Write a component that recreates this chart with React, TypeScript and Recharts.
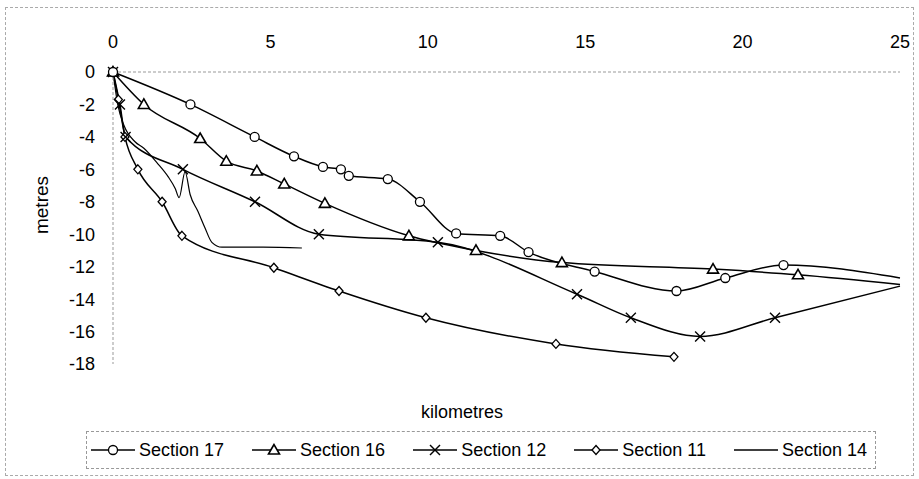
import React from "react";
import { LineChart, Line, XAxis, YAxis } from "recharts";

// Section 17 (circles)
const km17 = [0, 2.46, 4.5, 5.75, 6.67, 7.24, 7.49, 8.73, 9.75, 10.9, 12.3, 13.2, 15.3, 17.9, 19.45, 21.3, 25];
const m17 = [0, -2, -4, -5.2, -5.85, -6.0, -6.4, -6.6, -8.0, -9.95, -10.1, -11.1, -12.3, -13.5, -12.7, -11.9, -12.7];

// Section 16 (triangles)
const km16 = [0, 0.98, 2.77, 3.6, 4.57, 5.44, 6.73, 9.4, 11.53, 14.26, 19.06, 21.76, 25];
const m16 = [0, -2, -4.1, -5.5, -6.1, -6.9, -8.1, -10.1, -11.0, -11.75, -12.15, -12.5, -13.1];

// Section 12 (crosses)
const km12 = [0, 0.22, 0.4, 2.22, 4.51, 6.54, 10.32, 14.74, 16.45, 18.65, 21.03, 25];
const m12 = [0, -2, -4, -6, -8, -10, -10.5, -13.7, -15.15, -16.3, -15.15, -13.2];

// Section 11 (diamonds)
const km11 = [0, 0.17, 0.38, 0.79, 1.56, 2.19, 5.11, 7.18, 9.94, 14.07, 17.82];
const m11 = [0, -1.7, -4, -6, -8, -10.1, -12.07, -13.5, -15.15, -16.76, -17.56];

// Section 14 (plain line)
const km14 = [0, 0.15, 0.35, 0.7, 0.98, 1.4, 1.75, 1.98, 2.1, 2.29, 2.45, 2.7, 2.92, 3.14, 3.46, 4.77, 6.0];
const m14 = [0, -2, -3.3, -4.3, -4.7, -5.6, -6.45, -7.2, -7.75, -6.15, -7.55, -8.6, -9.6, -10.5, -10.8, -10.8, -10.85];

const xTicks = [0, 5, 10, 15, 20, 25];
const yTicks = [0, -2, -4, -6, -8, -10, -12, -14, -16, -18];
const legendNames = ["Section 17", "Section 16", "Section 12", "Section 11", "Section 14"];

const toPoints = (km: number[], m: number[]) => km.map((x, i) => ({ x, y: m[i] }));

const s17 = toPoints(km17, m17);
const s16 = toPoints(km16, m16);
const s12 = toPoints(km12, m12);
const s11 = toPoints(km11, m11);
const s14 = toPoints(km14, m14);

const FONT = '"Liberation Sans", Arial, sans-serif';

type Shape = "circle" | "triangle" | "cross" | "diamond" | "none";

const Marker = ({ shape, cx, cy }: { shape: Shape; cx: number; cy: number }) => {
  if (shape === "circle")
    return <circle cx={cx} cy={cy} r={4.5} fill="#fff" stroke="#000" strokeWidth={1.3} />;
  if (shape === "triangle")
    return (
      <polygon
        points={`${cx},${cy - 5.5} ${cx - 5.5},${cy + 4} ${cx + 5.5},${cy + 4}`}
        fill="#fff"
        stroke="#000"
        strokeWidth={1.6}
      />
    );
  if (shape === "cross")
    return (
      <g stroke="#000" strokeWidth={1.4}>
        <line x1={cx - 5} y1={cy - 5} x2={cx + 5} y2={cy + 5} />
        <line x1={cx - 5} y1={cy + 5} x2={cx + 5} y2={cy - 5} />
      </g>
    );
  if (shape === "diamond")
    return (
      <polygon
        points={`${cx},${cy - 4.5} ${cx + 4},${cy} ${cx},${cy + 4.5} ${cx - 4},${cy}`}
        fill="#fff"
        stroke="#000"
        strokeWidth={1.3}
      />
    );
  return null;
};

// points sitting on the right edge of the axis are clipped in the original, no marker there
const makeDot = (shape: Shape) => (p: any) => {
  const k = `dot-${shape}-${p.index}`;
  if (p.payload.x >= 25 || p.cx == null) return <g key={k} />;
  return (
    <g key={k}>
      <Marker shape={shape} cx={p.cx} cy={p.cy} />
    </g>
  );
};

const legendShapes: Shape[] = ["circle", "triangle", "cross", "diamond", "none"];

const LegendBox = () => (
  <div
    style={{
      position: "absolute",
      left: 86,
      top: 431,
      width: 790,
      height: 38,
      boxSizing: "border-box",
      padding: "0 8px 0 4px",
      border: "1px dashed #999",
      display: "flex",
      alignItems: "center",
      justifyContent: "space-between",
      fontSize: 18,
      color: "#000",
    }}
  >
    {legendNames.map((name, i) => (
      <div key={name} style={{ display: "flex", alignItems: "center" }}>
        <svg width={44} height={20} style={{ marginRight: 4 }}>
          <line x1={0} y1={10} x2={44} y2={10} stroke="#000" strokeWidth={1.4} />
          <Marker shape={legendShapes[i]} cx={22} cy={10} />
        </svg>
        <span>{name}</span>
      </div>
    ))}
  </div>
);

const axisStyle = { stroke: "#999", strokeDasharray: "3 2" };
const tickStyle = { fill: "#000", fontSize: 18, fontFamily: FONT };

export default function App() {
  return (
    <div
      style={{
        position: "absolute",
        left: 0,
        top: 0,
        width: 919,
        height: 479,
        background: "#fff",
        fontFamily: FONT,
      }}
    >
      <div
        style={{
          position: "absolute",
          left: 5,
          top: 7,
          width: 907,
          height: 467,
          border: "1px dashed #aaa",
        }}
      />
      <LineChart width={919} height={479} margin={{ top: 0, right: 19, bottom: 115, left: 0 }}>
        <XAxis
          type="number"
          dataKey="x"
          orientation="top"
          domain={[0, 25]}
          ticks={xTicks}
          height={72}
          tickSize={0}
          tickMargin={24}
          tickLine={false}
          axisLine={axisStyle}
          tick={tickStyle}
          allowDecimals={false}
        />
        <YAxis
          type="number"
          dataKey="y"
          domain={[-18, 0]}
          ticks={yTicks}
          width={113}
          tickSize={0}
          tickMargin={18}
          tickLine={false}
          axisLine={axisStyle}
          tick={tickStyle}
        />
        <Line data={s14} dataKey="y" type="monotone" stroke="#000" strokeWidth={1.2} dot={false} isAnimationActive={false} />
        <Line data={s11} dataKey="y" type="monotone" stroke="#000" strokeWidth={1.5} dot={makeDot("diamond")} isAnimationActive={false} />
        <Line data={s12} dataKey="y" type="monotone" stroke="#000" strokeWidth={1.5} dot={makeDot("cross")} isAnimationActive={false} />
        <Line data={s16} dataKey="y" type="monotone" stroke="#000" strokeWidth={1.5} dot={makeDot("triangle")} isAnimationActive={false} />
        <Line data={s17} dataKey="y" type="monotone" stroke="#000" strokeWidth={1.5} dot={makeDot("circle")} isAnimationActive={false} />
      </LineChart>
      <div
        style={{
          position: "absolute",
          left: 42,
          top: 205,
          transform: "translate(-50%, -50%) rotate(-90deg)",
          fontSize: 19,
          whiteSpace: "nowrap",
        }}
      >
        metres
      </div>
      <div
        style={{
          position: "absolute",
          left: 462,
          top: 412,
          transform: "translate(-50%, -50%)",
          fontSize: 18,
          whiteSpace: "nowrap",
        }}
      >
        kilometres
      </div>
      <LegendBox />
    </div>
  );
}
